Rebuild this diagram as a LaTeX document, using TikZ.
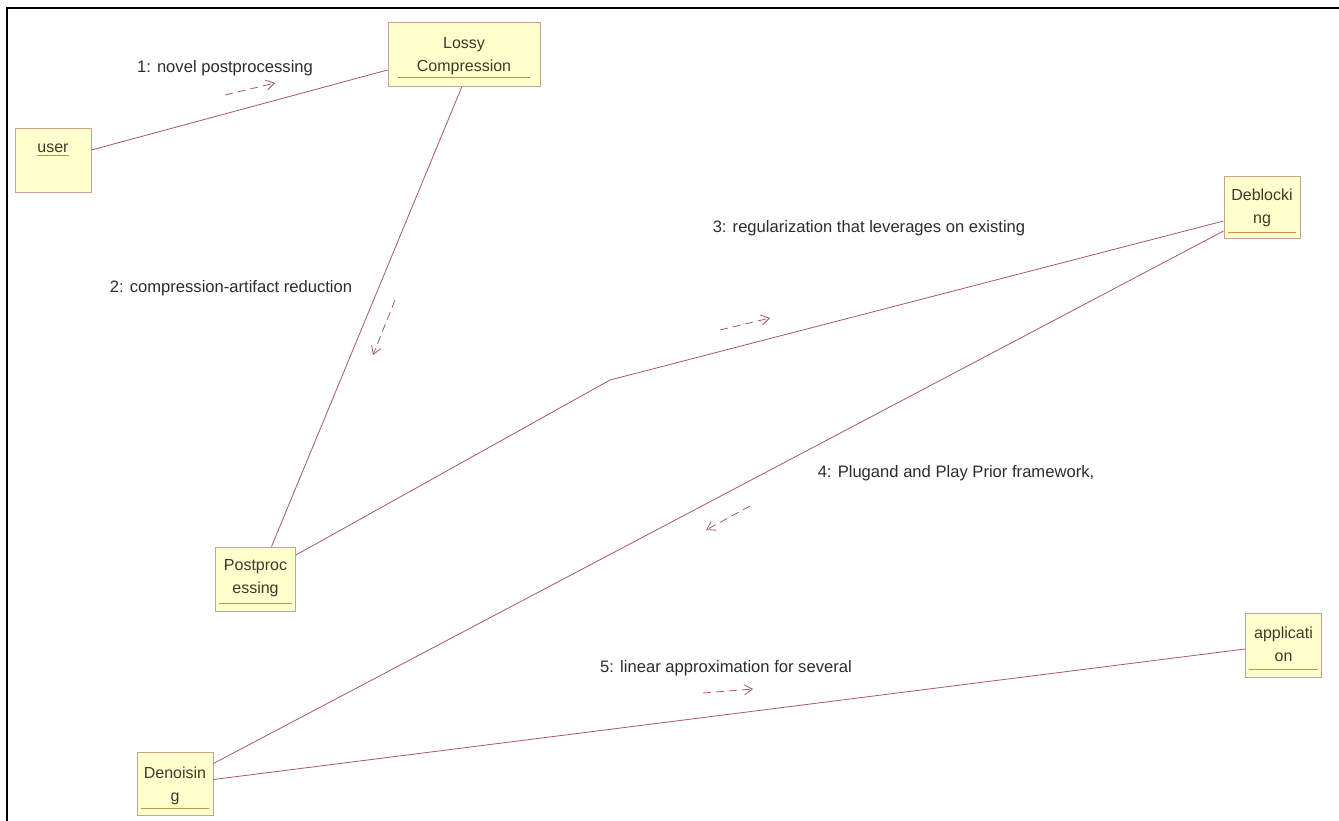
\documentclass[tikz,border=0pt]{standalone}
\usepackage{fontspec}
\setmainfont{Liberation Sans}
\usetikzlibrary{calc,arrows.meta}
\definecolor{boxfill}{RGB}{255,255,206}
\definecolor{boxdraw}{RGB}{205,160,150}
\definecolor{uline}{RGB}{195,150,70}
\definecolor{conn}{RGB}{170,85,115}
\definecolor{boxtext}{RGB}{60,60,40}
\definecolor{lbltext}{RGB}{45,45,45}
\tikzset{
  obj/.style={draw=boxdraw, fill=boxfill, line width=0.9pt, inner sep=0pt},
  objtext/.style={text=boxtext, align=center, font=\fontsize{16}{23}\selectfont, inner sep=0pt},
  ul/.style={draw=uline, line width=1pt},
  link/.style={draw=conn, line width=0.8pt},
  msg/.style={draw=conn, line width=0.8pt, dash pattern=on 8pt off 5pt, -{Straight Barb[length=8pt,width=10pt]}},
  lbl/.style={text=lbltext, font=\fontsize{16.6}{19}\selectfont, inner sep=0pt},
  frame/.style={draw=black, line width=2.5pt}
}
\begin{document}
\begin{tikzpicture}[x=1pt,y=-1pt]
\useasboundingbox (0,0) rectangle (1339,821);
\fill[white] (0,0) rectangle (1339,821);
% frame
\coordinate (fr1) at (1339,8);
\coordinate (fr2) at (7,8);
\coordinate (fr3) at (7,821);
\draw[frame] (fr1) -- (fr2) -- (fr3);

% objects
\node[obj, minimum width=76pt, minimum height=64pt] (user) at (53,160) {};
\node[obj, minimum width=152pt, minimum height=64pt] (lossy) at (464,54) {};
\node[obj, minimum width=76pt, minimum height=62pt] (debl) at (1262,207) {};
\node[obj, minimum width=80pt, minimum height=64pt] (post) at (255.5,579) {};
\node[obj, minimum width=76pt, minimum height=63pt] (deno) at (175,783.5) {};
\node[obj, minimum width=76pt, minimum height=64pt] (appl) at (1283.5,645) {};

% object names
\node[objtext] (tuser) at (53,148) {user};
\node[objtext] (tlossy) at (464,56) {Lossy\\Compression};
\node[objtext] (tdebl) at (1262,208) {Deblocki\\ng};
\node[objtext] (tpost) at (255.5,578) {Postproc\\essing};
\node[objtext] (tdeno) at (175,786) {Denoisin\\g};
\node[objtext] (tappl) at (1283.5,644) {applicati\\on};

% underlines
\draw[ul] ($(tuser.south west)+(0,3)$) -- ($(tuser.south east)+(0,3)$);
\draw[ul] ($(lossy.south west)+(10,-9)$) -- ($(lossy.south east)+(-10,-9)$);
\draw[ul] ($(debl.south west)+(4,-6)$) -- ($(debl.south east)+(-4,-6)$);
\draw[ul] ($(post.south west)+(4,-8)$) -- ($(post.south east)+(-4,-8)$);
\draw[ul] ($(deno.south west)+(4,-7)$) -- ($(deno.south east)+(-4,-7)$);
\draw[ul] ($(appl.south west)+(4,-8)$) -- ($(appl.south east)+(-4,-8)$);

% links
\coordinate (bend) at (610,380);
\draw[link] ($(user.east)+(0,-10)$) -- ($(lossy.west)+(0,16)$);
\draw[link] ($(lossy.south)+(-2,0)$) -- ($(post.north)+(16,0)$);
\draw[link] ($(post.east)+(0,-24)$) -- (bend) -- ($(debl.west)+(0,14)$);
\draw[link] ($(debl.west)+(0,24)$) -- ($(deno.east)+(0,-20)$);
\draw[link] ($(deno.east)+(0,-4)$) -- ($(appl.west)+(0,4)$);

% messages
\node[lbl] (l1) at (225,68) {1: novel postprocessing};
\node[lbl] (l2) at (231,288) {2: compression-artifact reduction};
\node[lbl] (l3) at (869,228) {3: regularization that leverages on existing};
\node[lbl] (l4) at (956,473) {4: Plugand and Play Prior framework,};
\node[lbl] (l5) at (726,668) {5: linear approximation for several};

\coordinate (a1s) at (225,95);  \coordinate (a1e) at (275,83);
\coordinate (a2s) at (395,300); \coordinate (a2e) at (373,355);
\coordinate (a3s) at (720,330); \coordinate (a3e) at (770,318);
\coordinate (a4s) at (750,506); \coordinate (a4e) at (706,530);
\coordinate (a5s) at (703,693); \coordinate (a5e) at (753,689);
\draw[msg] (a1s) -- (a1e);
\draw[msg] (a2s) -- (a2e);
\draw[msg] (a3s) -- (a3e);
\draw[msg] (a4s) -- (a4e);
\draw[msg] (a5s) -- (a5e);
\end{tikzpicture}
\end{document}
